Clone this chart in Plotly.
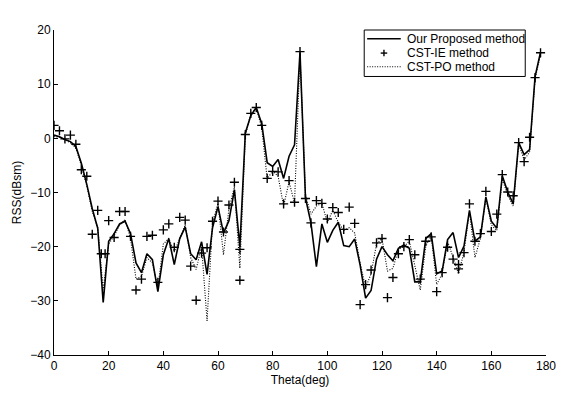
import plotly.graph_objects as go

theta = list(range(0, 180, 2))

proposed = [0.6, 0.3, -0.2, -0.6, -1.5, -4.6, -8.5, -13.0, -16.6, -30.3,
            -19.0, -17.6, -15.8, -15.3, -17.6, -23.0, -24.8, -21.3, -22.4, -28.3,
            -21.5, -18.5, -23.3, -18.5, -16.4, -21.3, -22.4, -19.1, -25.1, -16.5,
            -12.6, -17.5, -15.2, -9.5, -20.0, 1.0, 4.2, 5.7, 2.7, -4.5,
            -5.2, -3.9, -7.4, -3.3, -1.2, 15.9, -11.0, -15.6, -23.7, -15.8,
            -19.2, -17.0, -15.5, -19.8, -20.0, -18.6, -23.4, -29.5, -28.1, -22.3,
            -20.0, -21.5, -22.6, -20.3, -19.7, -20.3, -26.5, -26.5, -18.5, -17.6,
            -25.0, -24.5, -18.7, -17.4, -22.0, -19.9, -13.3, -19.0, -18.2, -10.8,
            -15.3, -16.6, -6.9, -9.9, -12.1, -0.8, -3.0, -2.1, 11.4, 15.9]

cst_po = [0.3, 0.2, -0.3, -0.8, -1.8, -5.0, -8.8, -13.5, -16.5, -28.0,
          -19.5, -18.0, -16.0, -15.0, -18.5, -26.0, -25.5, -22.0, -23.0, -27.6,
          -19.5, -18.5, -21.0, -18.5, -16.0, -22.0, -24.2, -20.0, -33.7, -15.5,
          -12.0, -21.5, -13.0, -9.0, -24.0, 0.5, 4.5, 5.5, 2.0, -7.5,
          -6.0, -7.0, -12.5, -8.0, -12.0, 15.5, -10.5, -14.0, -12.5, -12.0,
          -15.5, -13.3, -15.5, -17.0, -16.5, -17.5, -23.0, -27.6, -25.0, -19.5,
          -18.5, -24.5, -24.0, -20.5, -20.0, -19.0, -23.5, -28.0, -20.0, -18.0,
          -27.0, -25.0, -19.0, -22.0, -25.0, -21.0, -13.5, -22.0, -18.5, -11.0,
          -16.0, -17.0, -7.5, -10.5, -12.5, -1.0, -4.0, -2.5, 11.0, 15.5]

ie_theta = [0, 2, 4, 6, 8, 10, 12, 14, 16, 17.3, 18.7, 20, 22, 24, 26, 28, 30, 32, 34, 36,
            38, 40, 42, 44, 46, 48, 50, 52, 54, 56, 58, 60, 62, 64, 66, 68, 68, 70, 72, 74,
            76, 78, 80, 82, 84, 86, 88, 90, 92, 94, 96, 98, 100, 102, 104, 106, 108, 110, 112, 114,
            116, 118, 120, 122, 124, 126, 128, 130, 132, 134, 136, 138, 140, 142, 144, 146, 148, 148, 150, 152,
            154, 156, 158, 160, 162, 164, 166, 168, 170, 172, 174, 176, 178]
cst_ie = [2.4, 1.4, -0.1, 0.6, -1.1, -5.8, -7.0, -17.7, -13.3, -21.3, -21.3, -15.2, -18.3, -13.5, -13.5, -18.1, -28.0, -26.0, -18.1, -17.9,
          -26.6, -16.9, -15.8, -20.1, -14.6, -15.1, -23.6, -29.9, -21.2, -20.2, -15.3, -11.6, -17.3, -12.3, -8.1, -26.2, -20.5, 0.7, 4.6, 5.7,
          2.4, -7.4, -6.1, -6.2, -12.1, -7.8, -11.8, 16.0, -11.1, -15.6, -11.5, -12.0, -14.9, -12.8, -13.7, -16.8, -12.7, -15.7, -30.7, -27.0,
          -24.3, -19.3, -18.5, -29.4, -25.7, -21.3, -20.0, -18.7, -21.5, -26.0, -19.0, -18.2, -28.3, -24.8, -20.1, -22.3, -23.3, -24.1, -21.1, -12.1,
          -19.0, -17.6, -9.8, -17.2, -14.0, -6.7, -9.9, -10.6, -0.8, -4.3, 0.2, 11.2, 15.8]

x_ticks = [0, 20, 40, 60, 80, 100, 120, 140, 160, 180]
y_ticks = [-40, -30, -20, -10, 0, 10, 20]
legend_names = ["Our Proposed method", "CST-IE method", "CST-PO method"]

FAM = "Liberation Sans, Arial, sans-serif"
SOLID = dict(color="black", width=1.6)
DOTTED = dict(color="black", width=1.1, dash="1px,1.5px")

fig = go.Figure()
fig.add_trace(go.Scatter(x=theta, y=proposed, mode="lines", name=legend_names[0],
                         line=SOLID, showlegend=False))
fig.add_trace(go.Scatter(x=ie_theta, y=cst_ie, mode="markers", name=legend_names[1],
                         marker=dict(symbol="cross-thin", size=6.5, color="black",
                                     line=dict(color="black", width=1.4)),
                         showlegend=False))
fig.add_trace(go.Scatter(x=theta, y=cst_po, mode="lines", name=legend_names[2],
                         line=DOTTED, showlegend=False))

# manual legend box (paper coordinates), matching the original compact layout
W, H = 498.0, 335.0
bx0, bx1, by0, by1 = 0.6305, 0.9578, 0.857, 1.0
rows = [0.973, 0.929, 0.887]
lx0, lx1 = 0.6365, 0.7048
lxm = (lx0 + lx1) / 2
tx = 0.7129
cr = 3.3
shapes = [
    dict(type="rect", xref="paper", yref="paper", x0=bx0, x1=bx1, y0=by0, y1=by1,
         line=dict(color="black", width=1), fillcolor="white", layer="above"),
    dict(type="line", xref="paper", yref="paper", x0=lx0, x1=lx1, y0=rows[0], y1=rows[0],
         line=SOLID, layer="above"),
    dict(type="line", xref="paper", yref="paper", x0=lxm - cr / W, x1=lxm + cr / W,
         y0=rows[1], y1=rows[1], line=dict(color="black", width=1.4), layer="above"),
    dict(type="line", xref="paper", yref="paper", x0=lxm, x1=lxm,
         y0=rows[1] - cr / H, y1=rows[1] + cr / H, line=dict(color="black", width=1.4), layer="above"),
    dict(type="line", xref="paper", yref="paper", x0=lx0, x1=lx1, y0=rows[2], y1=rows[2],
         line=DOTTED, layer="above"),
]
annotations = [
    dict(xref="paper", yref="paper", x=tx, y=r, text=name, showarrow=False,
         xanchor="left", yanchor="middle", font=dict(family=FAM, size=12, color="black"))
    for r, name in zip(rows, legend_names)
]

fig.update_layout(
    width=568, height=397,
    margin=dict(l=54, r=16, t=30, b=32),
    paper_bgcolor="white", plot_bgcolor="white",
    font=dict(family=FAM, size=12, color="black"),
    showlegend=False,
    shapes=shapes,
    annotations=annotations,
    xaxis=dict(range=[0, 180], tickvals=x_ticks, ticks="inside", ticklen=4,
               tickcolor="black", showline=True, linecolor="black", linewidth=1,
               showgrid=False, zeroline=False, mirror=False,
               title=dict(text="Theta(deg)", standoff=3, font=dict(size=12))),
    yaxis=dict(range=[-40, 20], tickvals=y_ticks, ticks="inside", ticklen=4,
               tickcolor="black", showline=True, linecolor="black", linewidth=1,
               showgrid=False, zeroline=False, mirror=False,
               title=dict(text="RSS(dBsm)", standoff=6, font=dict(size=12))),
)

fig.write_html("out.html")
